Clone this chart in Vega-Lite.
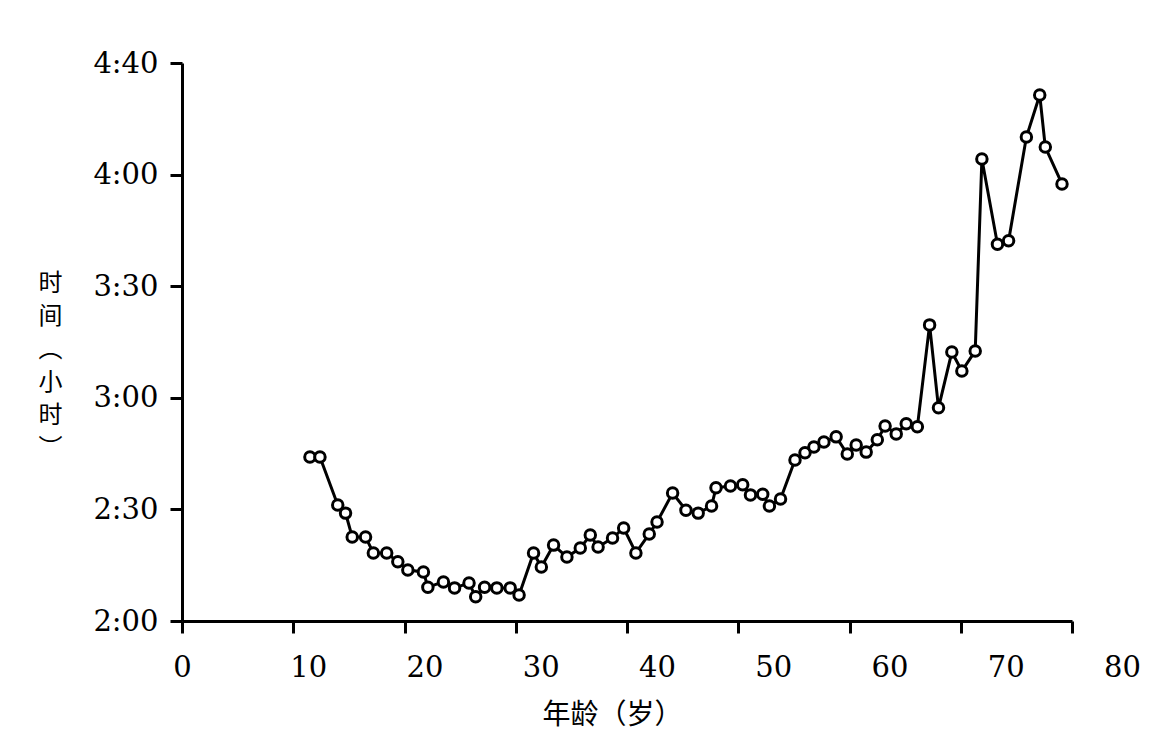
{
  "$schema": "https://vega.github.io/schema/vega-lite/v6.json",
  "width": 890,
  "height": 558,
  "autosize": "none",
  "padding": {"left": 182, "top": 63, "right": 78, "bottom": 129},
  "background": "white",
  "config": {"view": {"stroke": null}, "axis": {"grid": false}},
  "data": {"values": [
    {"age": 11.5, "minutes": 164.1}, {"age": 12.4, "minutes": 164.1}, {"age": 14.0, "minutes": 151.2}, {"age": 14.7, "minutes": 149.0},
    {"age": 15.3, "minutes": 142.6}, {"age": 16.5, "minutes": 142.6}, {"age": 17.2, "minutes": 138.3}, {"age": 18.4, "minutes": 138.3},
    {"age": 19.4, "minutes": 135.9}, {"age": 20.3, "minutes": 133.7}, {"age": 21.7, "minutes": 133.2}, {"age": 22.1, "minutes": 129.1},
    {"age": 23.5, "minutes": 130.5}, {"age": 24.5, "minutes": 128.9}, {"age": 25.8, "minutes": 130.2}, {"age": 26.4, "minutes": 126.5},
    {"age": 27.2, "minutes": 129.1}, {"age": 28.3, "minutes": 128.9}, {"age": 29.5, "minutes": 128.9}, {"age": 30.3, "minutes": 127.0},
    {"age": 31.6, "minutes": 138.3}, {"age": 32.3, "minutes": 134.5}, {"age": 33.4, "minutes": 140.4}, {"age": 34.6, "minutes": 137.2},
    {"age": 35.8, "minutes": 139.6}, {"age": 36.7, "minutes": 143.1}, {"age": 37.4, "minutes": 139.9}, {"age": 38.7, "minutes": 142.3},
    {"age": 39.7, "minutes": 145.0}, {"age": 40.8, "minutes": 138.3}, {"age": 42.0, "minutes": 143.4}, {"age": 42.7, "minutes": 146.6},
    {"age": 44.1, "minutes": 154.4}, {"age": 45.3, "minutes": 149.8}, {"age": 46.4, "minutes": 149.0}, {"age": 47.6, "minutes": 150.9},
    {"age": 48.0, "minutes": 155.8}, {"age": 49.3, "minutes": 156.3}, {"age": 50.4, "minutes": 156.6}, {"age": 51.1, "minutes": 153.9},
    {"age": 52.2, "minutes": 154.1}, {"age": 52.8, "minutes": 150.9}, {"age": 53.8, "minutes": 152.8}, {"age": 55.1, "minutes": 163.3},
    {"age": 56.0, "minutes": 165.2}, {"age": 56.8, "minutes": 166.8}, {"age": 57.7, "minutes": 168.1}, {"age": 58.8, "minutes": 169.5},
    {"age": 59.8, "minutes": 164.9}, {"age": 60.6, "minutes": 167.3}, {"age": 61.5, "minutes": 165.4}, {"age": 62.5, "minutes": 168.7},
    {"age": 63.2, "minutes": 172.4}, {"age": 64.2, "minutes": 170.3}, {"age": 65.1, "minutes": 173.0}, {"age": 66.1, "minutes": 172.2},
    {"age": 67.2, "minutes": 199.6}, {"age": 68.0, "minutes": 177.3}, {"age": 69.2, "minutes": 192.3}, {"age": 70.1, "minutes": 187.2},
    {"age": 71.3, "minutes": 192.6}, {"age": 71.9, "minutes": 244.2}, {"age": 73.3, "minutes": 221.3}, {"age": 74.3, "minutes": 222.2},
    {"age": 75.9, "minutes": 250.1}, {"age": 77.1, "minutes": 261.4}, {"age": 77.6, "minutes": 247.4}, {"age": 79.1, "minutes": 237.5}
  ]},
  "encoding": {
    "x": {
      "field": "age", "type": "quantitative",
      "scale": {"domain": [0, 80], "nice": false, "zero": false},
      "axis": {
        "values": [0, 10, 20, 30, 40, 50, 60, 70, 80], "format": "d",
        "domainColor": "black", "domainWidth": 3, "tickColor": "black", "tickWidth": 3, "tickSize": 12,
        "labelFont": "DejaVu Serif", "labelFontSize": 29, "labelColor": "black", "labelPadding": 20,
        "labelFlush": false, "labelOverlap": false,
        "labelOffset": {"expr": "datum.value === 0 ? 0 : 10 + datum.value * 0.5"},
        "title": "年龄（岁）", "titleFont": "Noto Sans CJK SC", "titleFontSize": 28, "titleFontWeight": "normal",
        "titleColor": "black", "titleX": 430, "titleY": 94, "titleAlign": "center", "titleBaseline": "middle"
      }
    },
    "y": {
      "field": "minutes", "type": "quantitative",
      "scale": {"domain": [120, 270], "nice": false, "zero": false},
      "axis": {
        "values": [120, 150, 180, 210, 240, 270],
        "labelExpr": "datum.value === 270 ? '4:40' : floor(datum.value / 60) + ':' + (datum.value % 60 === 0 ? '00' : '30')",
        "domainColor": "black", "domainWidth": 3, "tickColor": "black", "tickWidth": 3, "tickSize": 12,
        "labelFont": "DejaVu Serif", "labelFontSize": 29, "labelColor": "black", "labelPadding": 12,
        "labelFlush": false, "labelOverlap": false,
        "title": ["时", "间", "︵", "小", "时", "︶"], "titleFont": "Noto Sans CJK SC", "titleFontSize": 24,
        "titleFontWeight": "normal", "titleColor": "black", "titleAngle": 0, "titleX": -132, "titleY": 208,
        "titleAlign": "center", "titleBaseline": "top", "titleLineHeight": 33
      }
    }
  },
  "layer": [
    {"mark": {"type": "line", "color": "black", "strokeWidth": 3}},
    {"mark": {"type": "point", "shape": "circle", "filled": true, "fill": "white", "stroke": "black", "strokeWidth": 3, "size": 110, "opacity": 1}}
  ]
}
